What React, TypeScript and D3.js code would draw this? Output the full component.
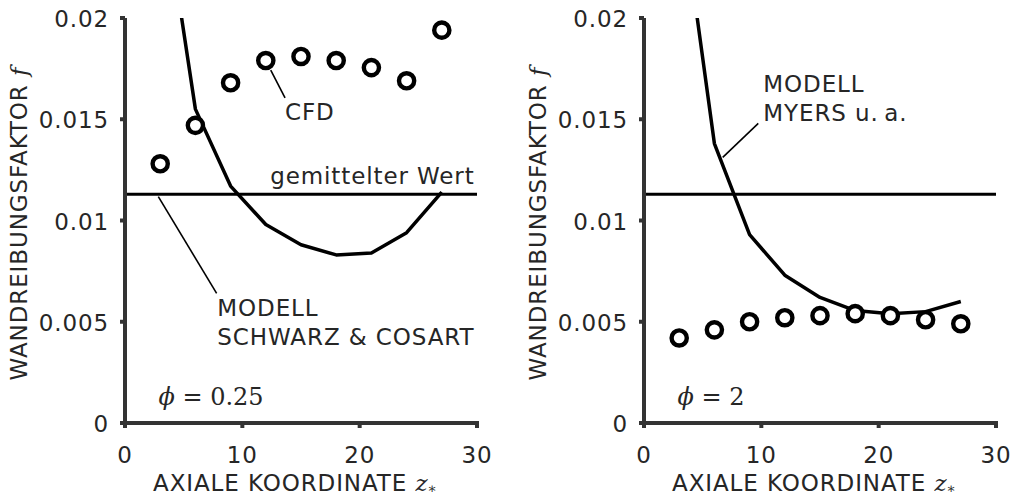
import React from "react";
import * as d3 from "d3";

// Axial stations of the evaluated cross sections
const zStations = [3, 6, 9, 12, 15, 18, 21, 24, 27];

// phi = 0.25
const cfdLow = [0.0128, 0.0147, 0.0168, 0.0179, 0.0181, 0.0179, 0.01755, 0.0169, 0.0194];
const schwarzCosart = [0.027, 0.0155, 0.0117, 0.0098, 0.0088, 0.0083, 0.0084, 0.0094, 0.0114];

// phi = 2
const cfdHigh = [0.0042, 0.0046, 0.005, 0.0052, 0.0053, 0.0054, 0.0053, 0.0051, 0.0049];
const myers = [0.0265, 0.0138, 0.0093, 0.0073, 0.0062, 0.00555, 0.0054, 0.0055, 0.006];

const meanValue = 0.0113;

const xTicks = [0, 10, 20, 30];
const yTicks = [0, 0.005, 0.01, 0.015, 0.02];
const yTickLabels = ["0", "0.005", "0.01", "0.015", "0.02"];

const SANS = "'DejaVu Sans', Verdana, sans-serif";
const SERIF = "'DejaVu Serif', 'Liberation Serif', serif";
const TEXT = "#262626";
const AXIS = "#333";

type Note = { lines: string[]; u: number; v: number; anchor?: string };
type Leader = [number, number, number, number];

type PanelProps = {
  id: string;
  x0: number;
  cfd: number[];
  model: number[];
  phi: string;
  notes: Note[];
  leaders: Leader[];
};

function Panel({ id, x0, cfd, model, phi, notes, leaders }: PanelProps) {
  const x = d3.scaleLinear().domain([0, 30]).range([x0, x0 + 352]);
  const y = d3.scaleLinear().domain([0, 0.02]).range([423, 18]);
  const line = d3
    .line<number>()
    .x((_, i) => x(zStations[i]))
    .y((d) => y(d));
  const fs = 23;
  const ls = 0.9;
  return (
    <g>
      <defs>
        <clipPath id={id}>
          <rect x={x(0)} y={y(0.02)} width={x(30) - x(0)} height={y(0) - y(0.02)} />
        </clipPath>
      </defs>

      {/* mean value */}
      <line x1={x(0)} x2={x(30)} y1={y(meanValue)} y2={y(meanValue)} stroke="#000" strokeWidth={3} />

      {/* model curve */}
      <path
        d={line(model) || ""}
        fill="none"
        stroke="#000"
        strokeWidth={3.5}
        strokeLinejoin="round"
        clipPath={`url(#${id})`}
      />

      {/* CFD results */}
      {cfd.map((v, i) => (
        <circle key={i} cx={x(zStations[i])} cy={y(v)} r={7.6} fill="#fff" stroke="#000" strokeWidth={4.4} />
      ))}

      {/* leader lines */}
      {leaders.map(([u1, v1, u2, v2], i) => (
        <line key={i} x1={x(u1)} y1={y(v1)} x2={x(u2)} y2={y(v2)} stroke="#000" strokeWidth={1.6} />
      ))}

      {/* annotations */}
      {notes.map((n, i) => (
        <text
          key={i}
          x={x(n.u)}
          y={y(n.v)}
          fontFamily={SANS}
          fontSize={fs}
          letterSpacing={ls}
          fill={TEXT}
          textAnchor={n.anchor || "start"}
        >
          {n.lines.map((l, j) => (
            <tspan key={j} x={x(n.u)} dy={j === 0 ? 0 : 29}>
              {l}
            </tspan>
          ))}
        </text>
      ))}

      <text x={x(2.85)} y={405} fontFamily={SERIF} fontSize={24} fill={TEXT}>
        <tspan fontStyle="italic">ϕ</tspan>
        <tspan> = {phi}</tspan>
      </text>

      {/* axes */}
      <line x1={x(0)} x2={x(0)} y1={y(0.02)} y2={y(0) + 2} stroke={AXIS} strokeWidth={4} />
      <line x1={x(0) - 2} x2={x(30) + 2} y1={y(0)} y2={y(0)} stroke={AXIS} strokeWidth={4} />
      {yTicks.map((t, i) => (
        <g key={i}>
          <line x1={x(0) - 5} x2={x(0)} y1={y(t)} y2={y(t)} stroke={AXIS} strokeWidth={4} />
          <text
            x={x(0) - 16}
            y={y(t) + 9}
            textAnchor="end"
            fontFamily={SANS}
            fontSize={fs}
            letterSpacing={ls}
            fill={TEXT}
          >
            {yTickLabels[i]}
          </text>
        </g>
      ))}
      {xTicks.map((t, i) => (
        <g key={i}>
          <line x1={x(t)} x2={x(t)} y1={y(0)} y2={y(0) + 5} stroke={AXIS} strokeWidth={4} />
          <text x={x(t)} y={463} textAnchor="middle" fontFamily={SANS} fontSize={fs} letterSpacing={ls} fill={TEXT}>
            {t}
          </text>
        </g>
      ))}

      {/* axis titles */}
      <text x={x0 + 28} y={491} fontFamily={SANS} fontSize={fs} letterSpacing={ls} fill={TEXT}>
        AXIALE KOORDINATE{" "}
        <tspan fontFamily={SERIF} fontStyle="italic" letterSpacing={0}>
          z
        </tspan>
        <tspan fontFamily={SERIF} fontSize={14} dy={2} letterSpacing={0}>
          ∗
        </tspan>
      </text>
      <text
        transform={`translate(${x0 - 98},224) rotate(-90)`}
        textAnchor="middle"
        fontFamily={SANS}
        fontSize={fs}
        letterSpacing={ls}
        fill={TEXT}
      >
        WANDREIBUNGSFAKTOR{" "}
        <tspan fontFamily={SERIF} fontStyle="italic" letterSpacing={0}>
          f
        </tspan>
      </text>
    </g>
  );
}

export default function App() {
  return (
    <svg
      width={1012}
      height={498}
      viewBox="0 0 1012 498"
      style={{ position: "absolute", left: 0, top: 0, background: "#fff" }}
    >
      <rect width={1012} height={498} fill="#fff" />
      <Panel
        id="clip-low"
        x0={125}
        cfd={cfdLow}
        model={schwarzCosart}
        phi="0.25"
        notes={[
          { lines: ["CFD"], u: 13.64, v: 0.01496 },
          { lines: ["gemittelter Wert"], u: 29.8, v: 0.0118, anchor: "end" },
          { lines: ["MODELL", "SCHWARZ & COSART"], u: 7.87, v: 0.0053 },
        ]}
        leaders={[
          [12.42, 0.01743, 13.64, 0.01606],
          [2.84, 0.01118, 7.81, 0.0064],
        ]}
      />
      <Panel
        id="clip-high"
        x0={644}
        cfd={cfdHigh}
        model={myers}
        phi="2"
        notes={[{ lines: ["MODELL", "MYERS u.\u2009a."], u: 10.17, v: 0.01633 }]}
        leaders={[[9.74, 0.0148, 6.71, 0.01312]]}
      />
    </svg>
  );
}
